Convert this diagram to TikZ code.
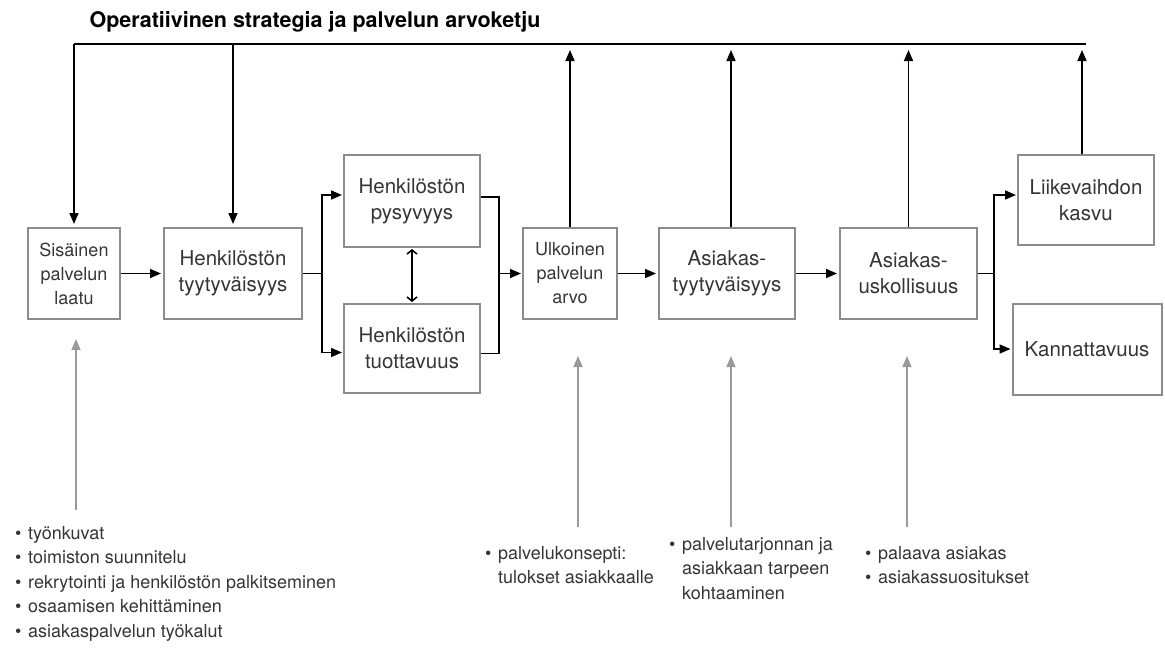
\documentclass[tikz,border=0pt]{standalone}
\usepackage{fontspec}
\setmainfont{TeX Gyre Heros}
\usetikzlibrary{arrows.meta}
\definecolor{boxline}{HTML}{8C8C8C}
\definecolor{boxtext}{HTML}{353535}
\definecolor{feedline}{HTML}{9A9A9A}
\newcommand{\bul}{\makebox[13pt][l]{\textbullet}}
\newcommand{\ind}{\hspace*{13pt}}
\tikzset{
  box/.style={draw=boxline, line width=2pt, text=boxtext, align=center, inner sep=1pt,
    font=\fontsize{20.5}{26}\selectfont},
  smallbox/.style={box, font=\fontsize{18}{24}\selectfont},
  link/.style={-{Triangle[length=11pt,width=9pt]}, line width=1.6pt},
  feed/.style={-{Triangle[length=11pt,width=9pt]}, line width=1.6pt, draw=feedline},
  twoway/.style={{Straight Barb[length=4pt,width=10pt]}-{Straight Barb[length=4pt,width=10pt]}, line width=1.6pt},
  list/.style={anchor=north west, align=left, inner sep=0pt, text=boxtext,
    font=\fontsize{18}{24.5}\selectfont}
}
\begin{document}
\begin{tikzpicture}[x=1pt, y=-1pt]
  \useasboundingbox (0,0) rectangle (1165,648);
  \node[font=\bfseries\fontsize{21.5}{24}\selectfont] (title) at (315,22) {Operatiivinen strategia ja palvelun arvoketju};
  % the chain of boxes
  \node[smallbox, minimum width=92pt, minimum height=91pt] (sis) at (74,273.5) {Sisäinen\\palvelun\\laatu};
  \node[box, minimum width=138pt, minimum height=91pt] (ht) at (233,273.5) {Henkilöstön\\tyytyväisyys};
  \node[box, minimum width=136pt, minimum height=92pt] (pys) at (412,201) {Henkilöstön\\pysyvyys};
  \node[box, minimum width=136pt, minimum height=89pt] (tuo) at (412,348.5) {Henkilöstön\\tuottavuus};
  \node[smallbox, minimum width=94pt, minimum height=91pt] (ulk) at (570,273.5) {Ulkoinen\\palvelun\\arvo};
  \node[box, minimum width=136pt, minimum height=91pt] (at) at (727,273.5) {Asiakas-\\tyytyväisyys};
  \node[box, minimum width=137pt, minimum height=91pt] (au) at (908.5,273.5) {Asiakas-\\uskollisuus};
  \node[box, minimum width=136pt, minimum height=90pt] (lv) at (1086,200) {Liikevaihdon\\kasvu};
  \node[box, minimum width=149pt, minimum height=91pt] (kan) at (1087,349) {Kannattavuus};
  % top bar
  \coordinate (bar) at (0,44);
  \draw[line width=1.6pt] (sis.north |- bar) -- (lv.north |- bar);
  \draw[link, shorten >=3pt] (sis.north |- bar) -- (sis.north);
  \draw[link, shorten >=3pt] (ht.north |- bar) -- (ht.north);
  \draw[link, shorten >=6pt] (ulk.north) -- (ulk.north |- bar);
  \draw[link, shorten >=6pt] ([xshift=4pt]at.north) -- ([xshift=4pt]at.north |- bar);
  \draw[link, shorten >=6pt] (au.north) -- (au.north |- bar);
  \draw[link, shorten >=6pt] ([xshift=-4pt]lv.north) -- ([xshift=-4pt]lv.north |- bar);
  % links between boxes
  \coordinate (s1) at (322,273.5);
  \coordinate (m1) at (499,273.5);
  \coordinate (s2) at (994,273.5);
  \draw[link, shorten >=2pt] (sis) -- (ht);
  \draw[line width=1.6pt] (ht.east) -- (s1);
  \draw[link, shorten >=1pt] (s1) |- ([yshift=6pt]pys.west);
  \draw[link, shorten >=1pt] (s1) |- ([yshift=-4pt]tuo.west);
  \draw[twoway, shorten <=1pt, shorten >=1pt] (pys) -- (tuo);
  \draw[line width=1.6pt] ([yshift=4pt]pys.east) -| (m1) |- ([yshift=-5pt]tuo.east);
  \draw[link, shorten >=1pt] (m1) -- (ulk);
  \draw[link, shorten >=2pt] (ulk) -- (at);
  \draw[link, shorten >=2pt] (at) -- (au);
  \draw[line width=1.6pt] (au.east) -- (s2);
  \draw[link, shorten >=1pt] (s2) |- ([yshift=5pt]lv.west);
  \draw[link, shorten >=1pt] (s2) |- (kan.west);
  % drivers below
  \node[list] (l1) at (15,526) {\bul työnkuvat\\\bul toimiston suunnitelu\\\bul rekrytointi ja henkilöstön palkitseminen\\\bul osaamisen kehittäminen\\\bul asiakaspalvelun työkalut};
  \node[list] (l2) at (485,546) {\bul palvelukonsepti:\\\ind tulokset asiakkaalle};
  \node[list] (l3) at (669,537) {\bul palvelutarjonnan ja\\\ind asiakkaan tarpeen\\\ind kohtaaminen};
  \node[list] (l4) at (865,546) {\bul palaava asiakas\\\bul asiakassuositukset};
  \coordinate (f1) at (76,510);
  \coordinate (f2) at (578,527);
  \coordinate (f3) at (731,527);
  \coordinate (f4) at (907,527);
  \draw[feed, shorten >=19pt] (f1) -- (f1 |- sis.south);
  \draw[feed, shorten >=36pt] (f2) -- (f2 |- ulk.south);
  \draw[feed, shorten >=36pt] (f3) -- (f3 |- at.south);
  \draw[feed, shorten >=36pt] (f4) -- (f4 |- au.south);
\end{tikzpicture}
\end{document}
